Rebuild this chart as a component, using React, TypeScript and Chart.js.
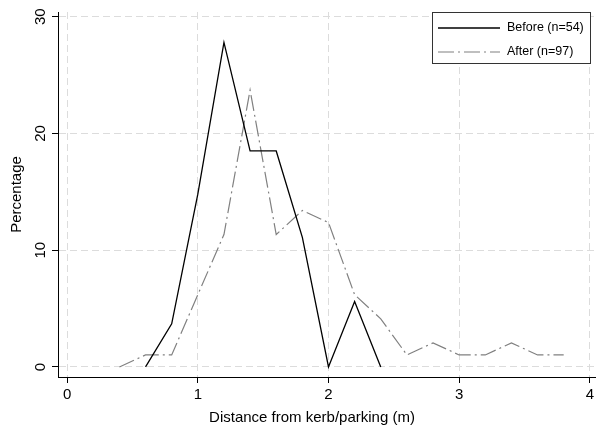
import React, { useEffect, useRef } from "react";
import { Chart, registerables } from "chart.js";
Chart.register(...registerables);

const beforeX = [0.6, 0.8, 1.0, 1.2, 1.4, 1.6, 1.8, 2.0, 2.2, 2.4];
const beforeY = [0, 3.7, 14.8, 27.8, 18.5, 18.5, 11.1, 0, 5.6, 0];
const afterX = [0.4, 0.6, 0.8, 1.0, 1.2, 1.4, 1.6, 1.8, 2.0, 2.2, 2.4, 2.6, 2.8, 3.0, 3.2, 3.4, 3.6, 3.8];
const afterY = [0, 1.03, 1.03, 6.19, 11.34, 23.71, 11.34, 13.4, 12.37, 6.19, 4.12, 1.03, 2.06, 1.03, 1.03, 2.06, 1.03, 1.03];
const xTicks = [0, 1, 2, 3, 4];
const yTicks = [0, 10, 20, 30];
const seriesLabels = ["Before (n=54)", "After (n=97)"];
const xTitle = "Distance from kerb/parking (m)";
const yTitle = "Percentage";

const FONT = "'Liberation Sans', Arial, sans-serif";

const textPlugin = {
  id: "axisTexts",
  afterDraw(chart: any) {
    const ctx = chart.ctx;
    const ys = chart.scales.y;
    ctx.save();
    ctx.fillStyle = "#000";
    ctx.font = `15px ${FONT}`;
    ctx.textAlign = "center";
    ctx.textBaseline = "middle";
    ys.ticks.forEach((t: any) => {
      const py = ys.getPixelForValue(t.value);
      ctx.save();
      ctx.translate(ys.right - 17, py);
      ctx.rotate(-Math.PI / 2);
      ctx.fillText(String(t.value), 0, 0);
      ctx.restore();
    });
    ctx.textBaseline = "alphabetic";
    ctx.fillText(xTitle, 312, 421.5);
    ctx.restore();
  },
};

const legendPlugin = {
  id: "boxLegend",
  afterDraw(chart: any) {
    const ctx = chart.ctx;
    const x0 = 432.5, y0 = 12.5, w = 158, h = 51;
    ctx.save();
    ctx.fillStyle = "#fff";
    ctx.fillRect(x0, y0, w, h);
    ctx.strokeStyle = "#333";
    ctx.lineWidth = 1;
    ctx.strokeRect(x0, y0, w, h);
    ctx.font = `12.5px ${FONT}`;
    ctx.textBaseline = "middle";
    ctx.textAlign = "left";
    chart.data.datasets.forEach((ds: any, i: number) => {
      const ly = 28 + i * 24;
      ctx.beginPath();
      ctx.setLineDash(ds.borderDash || []);
      ctx.strokeStyle = ds.borderColor;
      ctx.lineWidth = ds.borderWidth;
      ctx.moveTo(438, ly);
      ctx.lineTo(500, ly);
      ctx.stroke();
      ctx.setLineDash([]);
      ctx.fillStyle = "#000";
      ctx.fillText(ds.label, 507, ly);
    });
    ctx.restore();
  },
};

export default function App() {
  const ref = useRef<HTMLCanvasElement>(null);
  useEffect(() => {
    if (!ref.current) return;
    const chart = new Chart(ref.current, {
      type: "line",
      data: {
        datasets: [
          {
            label: seriesLabels[0],
            data: beforeX.map((x, i) => ({ x, y: beforeY[i] })),
            borderColor: "#000000",
            borderWidth: 1.3,
            pointRadius: 0,
            tension: 0,
            fill: false,
          },
          {
            label: seriesLabels[1],
            data: afterX.map((x, i) => ({ x, y: afterY[i] })),
            borderColor: "#808080",
            borderWidth: 1.2,
            borderDash: [16, 4, 2, 4],
            pointRadius: 0,
            tension: 0,
            fill: false,
          },
        ],
      },
      options: {
        responsive: false,
        animation: false,
        devicePixelRatio: 1,
        layout: { padding: { top: 12, right: 0, left: 0, bottom: 0 } },
        plugins: { legend: { display: false }, tooltip: { enabled: false } },
        scales: {
          x: {
            type: "linear",
            min: -0.07,
            max: 4.04,
            afterBuildTicks: (s: any) => {
              s.ticks = xTicks.map((v) => ({ value: v }));
            },
            afterFit: (s: any) => {
              s.height = 53;
            },
            ticks: {
              color: "#000",
              font: { family: FONT, size: 15 },
              padding: 3,
              maxRotation: 0,
              callback: (v: any) => String(v),
            },
            grid: { color: "#dcdcdc", lineWidth: 1, tickColor: "#000", tickLength: 6, tickWidth: 1 },
            border: { display: true, color: "#000", width: 1, dash: [7, 4] },
            title: { display: false },
          },
          y: {
            type: "linear",
            min: -0.86,
            max: 30.4,
            afterBuildTicks: (s: any) => {
              s.ticks = yTicks.map((v) => ({ value: v }));
            },
            afterFit: (s: any) => {
              s.width = 58;
            },
            ticks: {
              color: "rgba(0,0,0,0)",
              font: { family: FONT, size: 15 },
              callback: (v: any) => String(v),
            },
            grid: { color: "#dcdcdc", lineWidth: 1, tickColor: "#000", tickLength: 6, tickWidth: 1 },
            border: { display: true, color: "#000", width: 1, dash: [7, 4] },
            title: {
              display: true,
              text: yTitle,
              color: "#000",
              font: { family: FONT, size: 15 },
              padding: { top: 8, bottom: 0 },
            },
          },
        },
      },
      plugins: [textPlugin, legendPlugin],
    } as any);
    return () => chart.destroy();
  }, []);
  return (
    <div style={{ position: "fixed", left: 0, top: 0, width: 597, height: 430, background: "#fff" }}>
      <canvas ref={ref} width={597} height={430} />
    </div>
  );
}
